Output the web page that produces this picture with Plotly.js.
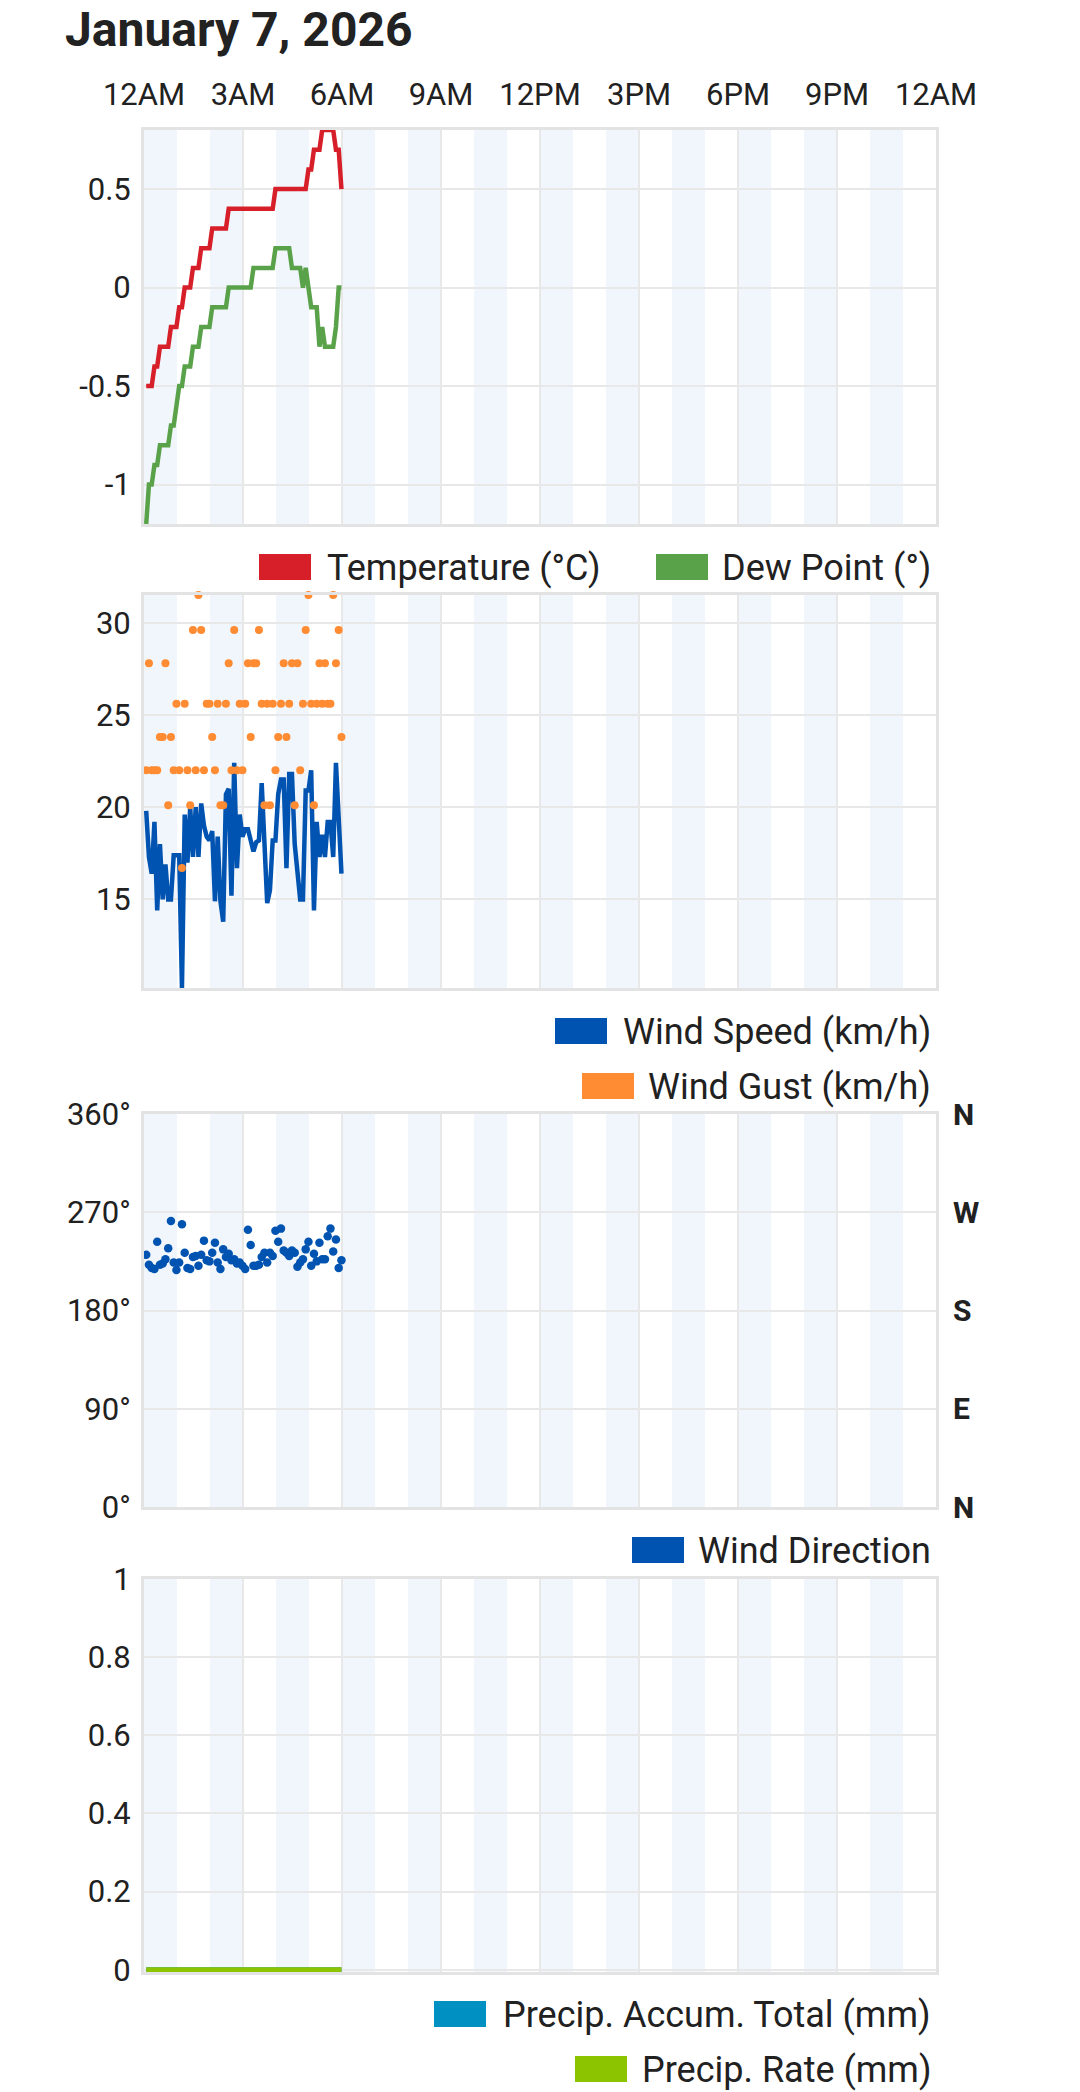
<!DOCTYPE html>
<html>
<head>
<meta charset="utf-8">
<script src="https://cdn.plot.ly/plotly-3.0.1.min.js"></script>
<style>
  html, body { margin: 0; padding: 0; background: #ffffff; }
  #chart { width: 1080px; height: 2092px; }
</style>
</head>
<body>
<div id="chart"></div>
<script>
// ---------------- DATA ----------------
const chartDate = '2026-01-07';
const obsTimes = [
  '00:04','00:09','00:14','00:19','00:24','00:29','00:34','00:39','00:44','00:49','00:54','00:59',
  '01:04','01:09','01:14','01:19','01:24','01:29','01:34','01:39','01:44','01:49','01:54','01:59',
  '02:04','02:09','02:14','02:19','02:24','02:29','02:34','02:39','02:44','02:49','02:54','02:59',
  '03:04','03:09','03:14','03:19','03:24','03:29','03:34','03:39','03:44','03:49','03:54','03:59',
  '04:04','04:09','04:14','04:19','04:24','04:29','04:34','04:39','04:44','04:49','04:54','04:59',
  '05:04','05:09','05:14','05:19','05:24','05:29','05:34','05:39','05:44','05:49','05:54','05:59'
];
const temperatureC = [
  -0.5,-0.5,-0.5,-0.4,-0.4,-0.3,-0.3,-0.3,-0.3,-0.2,-0.2,-0.2,
  -0.1,-0.1,0.0,0.0,0.0,0.1,0.1,0.1,0.2,0.2,0.2,0.2,
  0.3,0.3,0.3,0.3,0.3,0.3,0.4,0.4,0.4,0.4,0.4,0.4,
  0.4,0.4,0.4,0.4,0.4,0.4,0.4,0.4,0.4,0.4,0.4,0.5,
  0.5,0.5,0.5,0.5,0.5,0.5,0.5,0.5,0.5,0.5,0.5,0.6,
  0.6,0.7,0.7,0.7,0.8,0.8,0.8,0.8,0.8,0.7,0.7,0.5
];
const dewPoint = [
  -1.2,-1.0,-1.0,-0.9,-0.9,-0.8,-0.8,-0.8,-0.8,-0.7,-0.7,-0.6,
  -0.5,-0.5,-0.4,-0.4,-0.4,-0.3,-0.3,-0.3,-0.2,-0.2,-0.2,-0.2,
  -0.1,-0.1,-0.1,-0.1,-0.1,-0.1,0.0,0.0,0.0,0.0,0.0,0.0,
  0.0,0.0,0.0,0.1,0.1,0.1,0.1,0.1,0.1,0.1,0.1,0.2,
  0.2,0.2,0.2,0.2,0.2,0.1,0.1,0.1,0.1,0.0,0.1,0.0,
  -0.1,-0.1,-0.1,-0.3,-0.2,-0.3,-0.3,-0.3,-0.3,-0.2,0.0,0.0
];
const windSpeed = [
  19.8,17.3,16.4,19.2,14.4,18.0,15.0,16.9,15.0,15.0,17.4,17.4,
  17.4,10.2,19.6,17.0,20.0,17.3,20.0,17.3,20.2,19.0,18.4,18.2,
  18.7,14.9,18.4,14.9,13.8,20.7,21.0,15.2,22.4,16.7,19.6,18.4,
  18.8,18.8,18.2,17.6,18.1,18.2,21.3,18.0,14.8,15.5,18.2,18.2,
  20.7,21.5,21.5,16.7,21.8,21.8,18.0,16.5,15.0,15.0,20.9,20.9,
  22.0,14.4,19.2,17.3,18.5,17.3,19.2,19.2,17.3,22.4,19.4,16.4
];
const windGust = [
  22.0,27.8,22.0,22.0,22.0,23.8,23.8,27.8,20.1,23.8,22.0,25.6,
  22.0,16.7,25.6,22.0,20.1,29.6,22.0,31.5,29.6,22.0,25.6,25.6,
  23.8,22.0,25.6,20.1,20.1,25.6,27.8,22.0,29.6,22.0,25.6,22.0,
  25.6,27.8,23.8,27.8,27.8,29.6,25.6,20.1,25.6,20.1,25.6,22.0,
  23.8,25.6,27.8,23.8,25.6,27.8,20.1,27.8,22.0,25.6,29.6,31.5,
  25.6,20.1,25.6,27.8,25.6,27.8,25.6,25.6,31.5,27.8,29.6,23.8
];
const windDirection = [
  231,222,219,218,243,222,223,227,237,262,224,217,
  224,259,233,219,218,229,230,221,231,244,226,225,
  233,242,224,218,236,229,232,226,227,223,224,221,
  218,254,240,221,221,222,229,233,224,233,230,253,
  243,255,235,233,230,235,233,220,224,227,236,243,
  221,232,225,242,227,227,248,255,234,245,219,226
];
const precipAccum = [
  0,0,0,0,0,0,0,0,0,0,0,0, 0,0,0,0,0,0,0,0,0,0,0,0,
  0,0,0,0,0,0,0,0,0,0,0,0, 0,0,0,0,0,0,0,0,0,0,0,0,
  0,0,0,0,0,0,0,0,0,0,0,0, 0,0,0,0,0,0,0,0,0,0,0,0
];
const precipRate = [
  0,0,0,0,0,0,0,0,0,0,0,0, 0,0,0,0,0,0,0,0,0,0,0,0,
  0,0,0,0,0,0,0,0,0,0,0,0, 0,0,0,0,0,0,0,0,0,0,0,0,
  0,0,0,0,0,0,0,0,0,0,0,0, 0,0,0,0,0,0,0,0,0,0,0,0
];
const hourTicks = ['2026-01-07 00:00','2026-01-07 03:00','2026-01-07 06:00','2026-01-07 09:00',
  '2026-01-07 12:00','2026-01-07 15:00','2026-01-07 18:00','2026-01-07 21:00','2026-01-08 00:00'];
const hourLabels = ['12AM','3AM','6AM','9AM','12PM','3PM','6PM','9PM','12AM'];
const shadedHours = [0,2,4,6,8,10,12,14,16,18,20,22];

const tempTicks = [-1, -0.5, 0, 0.5];
const tempLabels = ['-1', '-0.5', '0', '0.5'];
const windTicks = [15, 20, 25, 30];
const windLabels = ['15', '20', '25', '30'];
const dirTicks = [0, 90, 180, 270, 360];
const dirLabels = ['0°', '90°', '180°', '270°', '360°'];
const dirCompass = ['N', 'E', 'S', 'W', 'N'];
const precipTicks = [0, 0.2, 0.4, 0.6, 0.8, 1];
const precipLabels = ['0', '0.2', '0.4', '0.6', '0.8', '1'];

// ---------------- LAYOUT HELPERS ----------------
const W = 1080, H = 2092;
const px = v => v / W;
const py = v => 1 - v / H;
const times = obsTimes.map(t => chartDate + ' ' + t);
const hourDate = h => {
  const d = h >= 24 ? '2026-01-08' : chartDate;
  const hh = h % 24;
  return d + ' ' + String(hh).padStart(2, '0') + ':00';
};

const C = {
  temp: '#d71f2a', dew: '#5aa24a', wind: '#0053b0', gust: '#ff8b33',
  dir: '#0053b0', accum: '#0090c2', rate: '#8cc400',
  band: '#f0f6fb', grid: '#e8e8e8', border: '#e3e3e3', text: '#212121'
};
const FONT = 'Roboto, "Noto Sans", sans-serif';

const xDomain = [px(144), px(936)];
const panels = [
  { top: 130, bottom: 524 },
  { top: 595, bottom: 988 },
  { top: 1114, bottom: 1507 },
  { top: 1579, bottom: 1972 }
];
const yDom = p => [py(p.bottom), py(p.top)];

function xAxis(extra) {
  return Object.assign({
    type: 'date', domain: xDomain,
    range: ['2026-01-07 00:00', '2026-01-08 00:00'],
    tickmode: 'array', tickvals: hourTicks, ticktext: hourLabels,
    showgrid: true, gridcolor: C.grid, gridwidth: 2,
    showline: true, mirror: true, linecolor: C.border, linewidth: 3,
    zeroline: false, showticklabels: false, ticks: '', fixedrange: true
  }, extra);
}
function yAxis(extra) {
  return Object.assign({
    tickmode: 'array',
    showgrid: true, gridcolor: C.grid, gridwidth: 2,
    showline: true, mirror: true, linecolor: C.border, linewidth: 3,
    zeroline: false, ticks: 'outside', ticklen: 4, tickcolor: 'rgba(0,0,0,0)',
    tickfont: { family: FONT, size: 31, color: C.text }, fixedrange: true
  }, extra);
}

// ---------------- TRACES ----------------
const traces = [
  { x: times, y: temperatureC, type: 'scatter', mode: 'lines', xaxis: 'x', yaxis: 'y',
    line: { color: C.temp, width: 4.5 }, name: 'Temperature (°C)' },
  { x: times, y: dewPoint, type: 'scatter', mode: 'lines', xaxis: 'x', yaxis: 'y',
    line: { color: C.dew, width: 4.5 }, name: 'Dew Point (°)' },
  { x: times, y: windSpeed, type: 'scatter', mode: 'lines', xaxis: 'x2', yaxis: 'y2',
    line: { color: C.wind, width: 4.5 }, name: 'Wind Speed (km/h)' },
  { x: times, y: windGust, type: 'scatter', mode: 'markers', xaxis: 'x2', yaxis: 'y2',
    marker: { color: C.gust, size: 8 }, name: 'Wind Gust (km/h)', cliponaxis: false },
  { x: times, y: windDirection, type: 'scatter', mode: 'markers', xaxis: 'x3', yaxis: 'y3',
    marker: { color: C.dir, size: 8.5 }, name: 'Wind Direction' },
  { x: times, y: precipAccum, type: 'scatter', mode: 'lines', xaxis: 'x4', yaxis: 'y4',
    line: { color: C.accum, width: 5 }, name: 'Precip. Accum. Total (mm)' },
  { x: times, y: precipRate, type: 'scatter', mode: 'lines', xaxis: 'x4', yaxis: 'y4',
    line: { color: C.rate, width: 5 }, name: 'Precip. Rate (mm)' }
];

// ---------------- SHAPES (bands + legend swatches) ----------------
const shapes = [];
['', '2', '3', '4'].forEach(n => {
  shadedHours.forEach(h => {
    shapes.push({ type: 'rect', layer: 'below', xref: 'x' + n, yref: 'y' + n + ' domain',
      x0: hourDate(h), x1: hourDate(h + 1), y0: 0, y1: 1,
      fillcolor: C.band, line: { width: 0 } });
  });
});
const legendItems = [
  { label: 'Temperature (°C)', color: C.temp, sx: 259, tx: 325, cy: 567, anchor: 'left' },
  { label: 'Dew Point (°)', color: C.dew, sx: 656, tx: 933, cy: 567, anchor: 'right' },
  { label: 'Wind Speed (km/h)', color: C.wind, sx: 555, tx: 933, cy: 1031, anchor: 'right' },
  { label: 'Wind Gust (km/h)', color: C.gust, sx: 582, tx: 933, cy: 1086, anchor: 'right' },
  { label: 'Wind Direction', color: C.dir, sx: 632, tx: 933, cy: 1550, anchor: 'right' },
  { label: 'Precip. Accum. Total (mm)', color: C.accum, sx: 434, tx: 933, cy: 2014, anchor: 'right' },
  { label: 'Precip. Rate (mm)', color: C.rate, sx: 575, tx: 933, cy: 2069, anchor: 'right' }
];
const annotations = [];
legendItems.forEach(it => {
  shapes.push({ type: 'rect', xref: 'paper', yref: 'paper', layer: 'above',
    x0: px(it.sx), x1: px(it.sx + 52), y0: py(it.cy + 13), y1: py(it.cy - 13),
    fillcolor: it.color, line: { width: 0 } });
  annotations.push({ xref: 'paper', yref: 'paper', x: px(it.tx), y: py(it.cy + 1),
    xanchor: it.anchor, yanchor: 'middle', text: it.label, showarrow: false,
    font: { family: FONT, size: 36, color: C.text } });
});
// compass labels on the right of the wind-direction panel
dirTicks.forEach((v, i) => {
  annotations.push({ xref: 'paper', yref: 'y3', x: px(951), y: v,
    xanchor: 'left', yanchor: 'middle', text: '<b>' + dirCompass[i] + '</b>', showarrow: false,
    font: { family: FONT, size: 30, color: C.text } });
});
annotations.push({ xref: 'paper', yref: 'paper', x: px(64), y: 1, borderpad: 0,
  xanchor: 'left', yanchor: 'top', text: '<b>January 7, 2026</b>', showarrow: false,
  font: { family: FONT, size: 48, color: '#222222' } });

// ---------------- LAYOUT ----------------
const layout = {
  width: W, height: H, autosize: false,
  margin: { l: 0, r: 0, t: 0, b: 0, pad: 0 },
  paper_bgcolor: '#ffffff', plot_bgcolor: '#ffffff',
  showlegend: false, hovermode: false,
  font: { family: FONT, color: C.text },
  xaxis: xAxis({ anchor: 'y', side: 'top', showticklabels: true, ticks: 'outside',
    ticklen: 10, tickcolor: 'rgba(0,0,0,0)',
    tickfont: { family: FONT, size: 31, color: C.text } }),
  xaxis2: xAxis({ anchor: 'y2', matches: 'x' }),
  xaxis3: xAxis({ anchor: 'y3', matches: 'x' }),
  xaxis4: xAxis({ anchor: 'y4', matches: 'x', layer: 'below traces' }),
  yaxis: yAxis({ domain: yDom(panels[0]), anchor: 'x', range: [-1.2, 0.8],
    tickvals: tempTicks, ticktext: tempLabels }),
  yaxis2: yAxis({ domain: yDom(panels[1]), anchor: 'x2', range: [10.2, 31.5],
    tickvals: windTicks, ticktext: windLabels }),
  yaxis3: yAxis({ domain: yDom(panels[2]), anchor: 'x3', range: [0, 360],
    tickvals: dirTicks, ticktext: dirLabels }),
  yaxis4: yAxis({ domain: yDom(panels[3]), anchor: 'x4', range: [-0.006, 1],
    tickvals: precipTicks, ticktext: precipLabels, layer: 'below traces' }),
  shapes: shapes,
  annotations: annotations
};

Plotly.newPlot('chart', traces, layout, { staticPlot: true, displayModeBar: false });
</script>
</body>
</html>
